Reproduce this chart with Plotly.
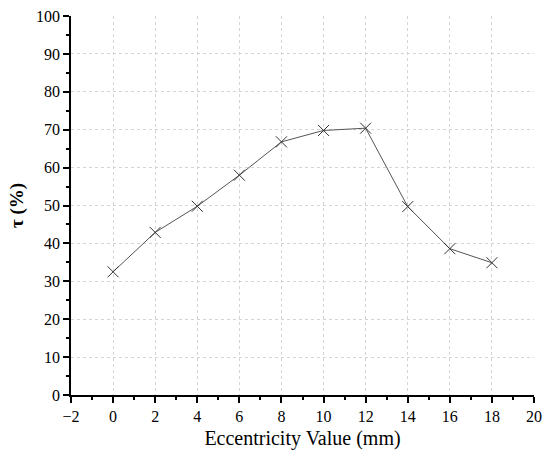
import plotly.graph_objects as go

ecc = [0, 2, 4, 6, 8, 10, 12, 14, 16, 18]
tau = [32.5, 42.9, 49.8, 58.0, 66.8, 69.8, 70.4, 49.7, 38.6, 34.9]
x_ticks = [-2, 0, 2, 4, 6, 8, 10, 12, 14, 16, 18, 20]
y_ticks = [0, 10, 20, 30, 40, 50, 60, 70, 80, 90, 100]

font = "Liberation Serif"

fig = go.Figure()
fig.add_trace(go.Scatter(
    x=ecc, y=tau, mode="lines+markers",
    line=dict(color="#555555", width=1),
    marker=dict(symbol="x-thin", size=11, line=dict(color="#333333", width=1), color="#333333"),
    showlegend=False,
))

grid = dict(showgrid=True, gridcolor="#d4d4d4", griddash="dot", gridwidth=1)
fig.update_xaxes(
    range=[-2, 20], tickvals=x_ticks, ticks="outside", ticklen=6, tickwidth=1.5,
    tickcolor="#000", showline=True, linecolor="#000", linewidth=1.5, zeroline=False,
    minor=dict(dtick=1, ticks="outside", ticklen=3, tickcolor="#000", tickwidth=1.5, showgrid=False),
    tickfont=dict(family=font, size=16, color="#000"),
    title=dict(text="Eccentricity Value (mm)", font=dict(family=font, size=20, color="#000"), standoff=7),
    automargin=False,
    **grid,
)
fig.update_yaxes(
    range=[0, 100], tickvals=y_ticks, ticks="outside", ticklen=6, tickwidth=1.5,
    tickcolor="#000", showline=True, linecolor="#000", linewidth=1.5, zeroline=False,
    minor=dict(dtick=5, ticks="outside", ticklen=3, tickcolor="#000", tickwidth=1.5, showgrid=False),
    tickfont=dict(family=font, size=16, color="#000"),
    title=dict(text="<b>τ (%)</b>", font=dict(family=font, size=19, color="#000"), standoff=7),
    automargin=False,
    **grid,
)
fig.update_layout(
    width=542, height=452,
    font=dict(family=font, color="#000"),
    margin=dict(l=71, r=8, t=16, b=57, autoexpand=False),
    plot_bgcolor="white", paper_bgcolor="white",
)
fig.write_html("out.html")
